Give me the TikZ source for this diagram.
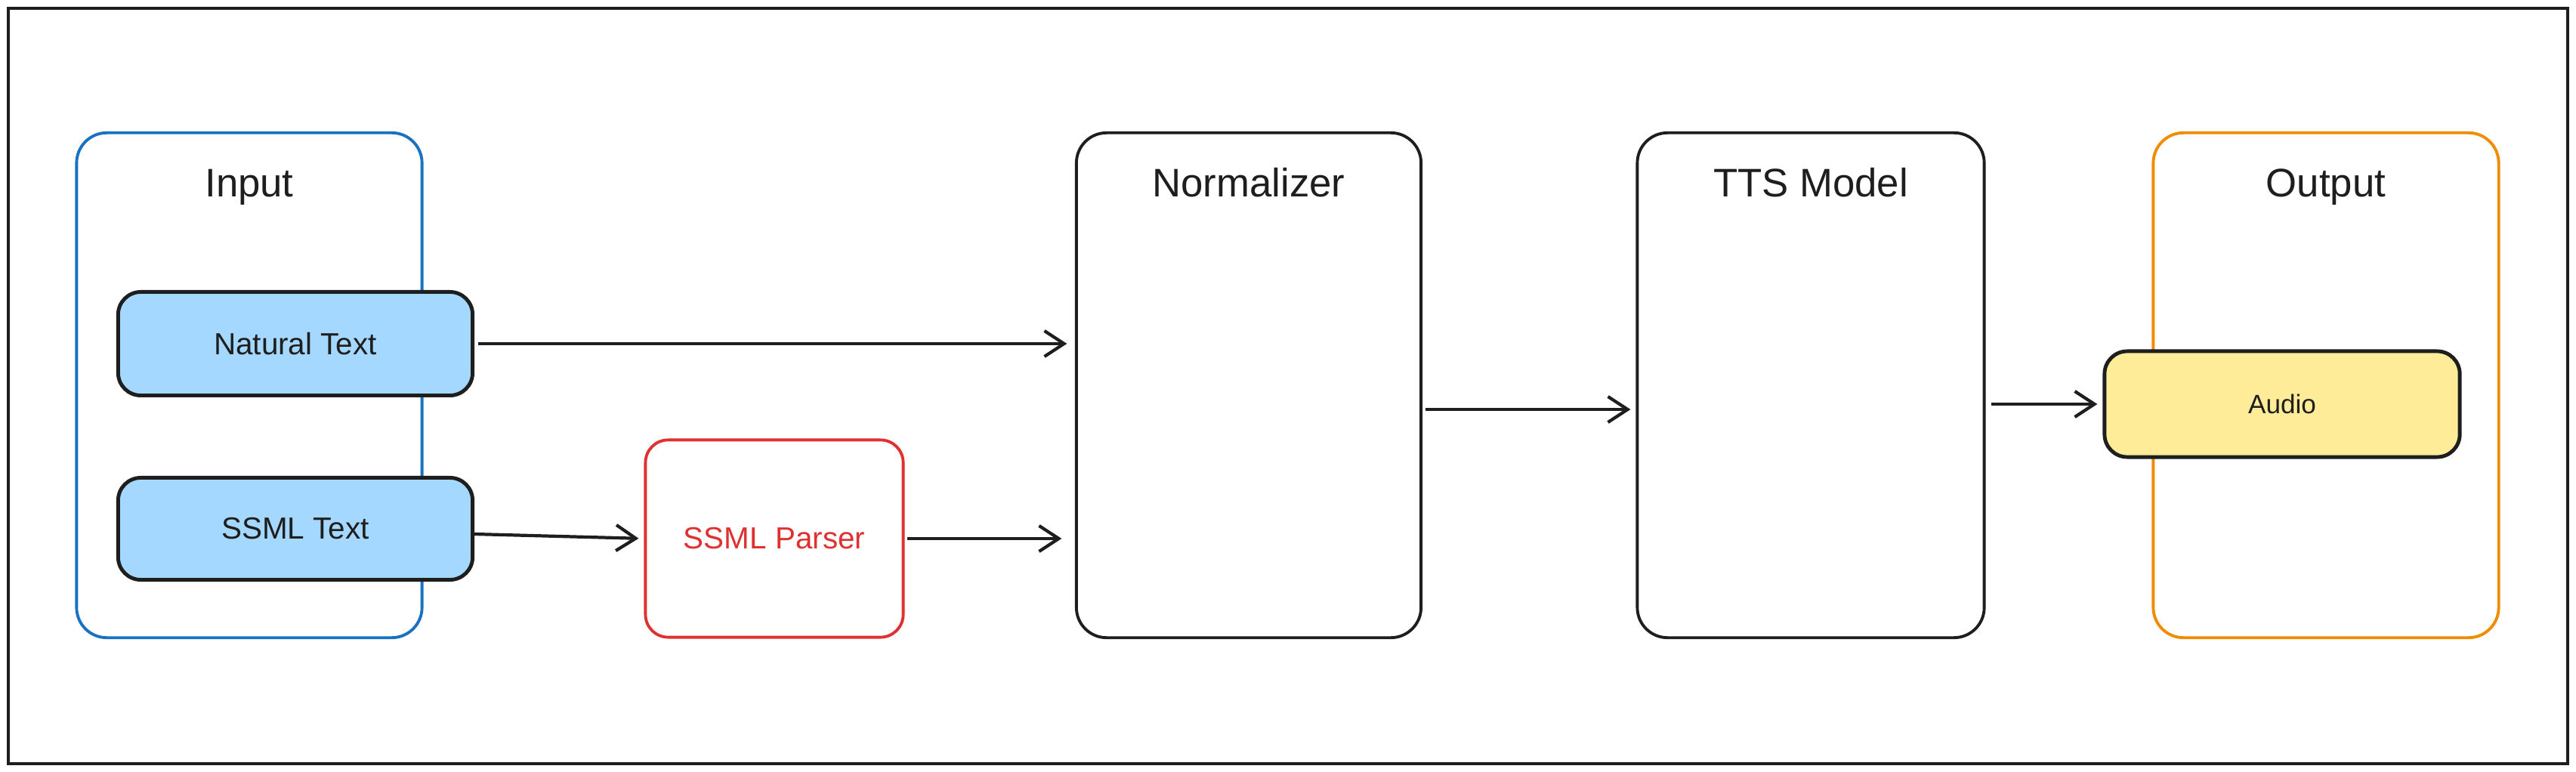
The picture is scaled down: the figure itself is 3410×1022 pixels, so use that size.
\documentclass[tikz,border=0pt]{standalone}
\usepackage{fontspec}
\setmainfont{Liberation Sans}
\usetikzlibrary{arrows.meta}

\definecolor{inkblack}{HTML}{1E1E1E}
\definecolor{groupblue}{HTML}{1971C2}
\definecolor{fillblue}{HTML}{A5D8FF}
\definecolor{parserred}{HTML}{E03131}
\definecolor{grouporange}{HTML}{F08C00}
\definecolor{fillyellow}{HTML}{FFEC99}

\tikzset{
    stage/.style={draw=inkblack, line width=1.1pt, rounded corners=0.4cm, inner sep=0pt},
    item/.style={draw=inkblack, line width=1.4pt, rounded corners=0.3cm, inner sep=0pt,
        font=\fontsize{11.5}{13}\selectfont, text=inkblack},
    title/.style={font=\fontsize{15}{18}\selectfont, text=inkblack, anchor=base},
    flow/.style={->, draw=inkblack, line width=1.2pt}
}

\begin{document}
\begin{tikzpicture}[x=0.01cm, y=-0.01cm, >={Straight Barb[length=2.6mm, width=3.4mm]}]
            \useasboundingbox (0,0) rectangle (3410,1022);
            % 外框
            \draw[inkblack, line width=1.2pt] (11,11) rectangle (3399,1011);

            % 分组框
            \node[stage, draw=groupblue, minimum width=4.57cm, minimum height=6.68cm] (input) at (330,510) {};
            \node[stage, minimum width=4.56cm, minimum height=6.68cm] (norm) at (1653,510) {};
            \node[stage, minimum width=4.59cm, minimum height=6.68cm] (tts) at (2397,510) {};
            \node[stage, draw=grouporange, minimum width=4.57cm, minimum height=6.68cm] (output) at (3079,510) {};

            % 标题
            \node[title] at ([yshift=-0.87cm]input.north) {Input};
            \node[title] at ([yshift=-0.87cm]norm.north) {Normalizer};
            \node[title] at ([yshift=-0.87cm]tts.north) {TTS Model};
            \node[title] at ([yshift=-0.87cm]output.north) {Output};

            % 内部节点
            \node[item, fill=fillblue, minimum width=4.69cm, minimum height=1.37cm] (natural) at (391,455) {Natural Text};
            \node[item, fill=fillblue, minimum width=4.69cm, minimum height=1.35cm] (ssml) at (391,700) {SSML Text};
            \node[item, draw=parserred, text=parserred, line width=1.1pt, minimum width=3.41cm, minimum height=2.61cm] (parser) at (1025,713) {SSML Parser};
            \node[item, fill=fillyellow, minimum width=4.70cm, minimum height=1.40cm, font=\fontsize{10}{12}\selectfont] (audio) at (3021,535) {Audio};

            % 连线
            \draw[flow, shorten <=1.5pt, shorten >=3pt] (natural.east) -- (natural.east -| norm.west);
            \draw[flow, shorten >=2pt] ([yshift=-0.07cm]ssml.east) -- (parser.west);
            \draw[flow, shorten <=1pt, shorten >=5pt] (parser.east) -- (parser.east -| norm.west);
            \draw[flow, shorten <=1pt, shorten >=2pt] ([yshift=-0.32cm]norm.east) -- ([yshift=-0.32cm]norm.east -| tts.west);
            \draw[flow, shorten <=2pt, shorten >=2pt] (tts.east |- audio.west) -- (audio.west);

        \end{tikzpicture}
\end{document}
